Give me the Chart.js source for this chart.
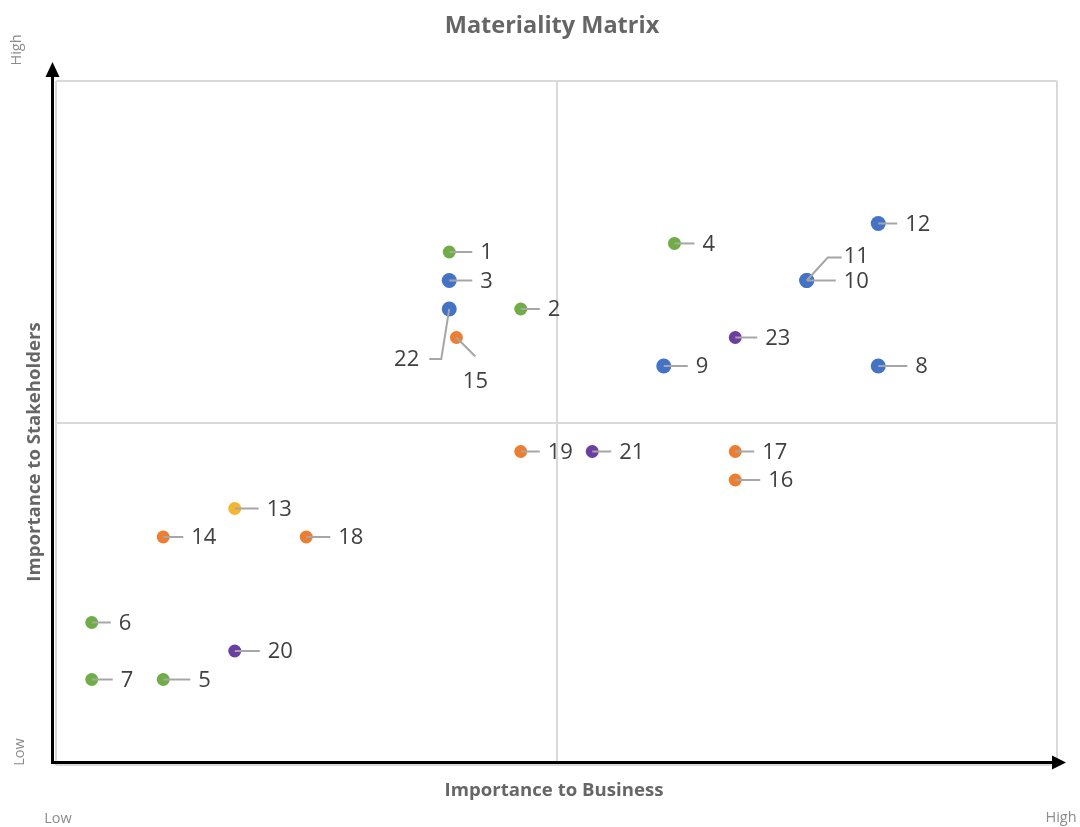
<!DOCTYPE html>
<html>
<head>
<meta charset="utf-8">
<title>Materiality Matrix</title>
<script src="https://cdn.jsdelivr.net/npm/chart.js@4/dist/chart.umd.min.js"></script>
<style>
  html, body { margin: 0; padding: 0; background: #ffffff; }
  #wrap { width: 1080px; height: 827px; }
</style>
</head>
<body>
<div id="wrap"><canvas id="matrix" width="1080" height="827"></canvas></div>
<script>
// Topic numbers and their scores
const topicIds = [1, 2, 3, 4, 5, 6, 7, 8, 9, 10, 11, 12, 13, 14, 15, 16, 17, 18, 19, 20, 21, 22, 23];
const businessScores = [5.5, 6.5, 5.5, 8.65, 1.5, 0.5, 0.5, 11.5, 8.5, 10.5, 10.5, 11.5, 2.5, 1.5, 5.6, 9.5, 9.5, 3.5, 6.5, 2.5, 7.5, 5.5, 9.5];
const stakeholderScores = [18, 16, 17, 18.3, 3, 5, 3, 14, 14, 17, 17, 19, 9, 8, 15, 10, 11, 8, 11, 4, 11, 16, 15];
// Topic category for each topic
const topicCategory = ['env', 'env', 'gov', 'env', 'env', 'env', 'env', 'gov', 'gov', 'gov', 'gov', 'gov', 'eco', 'soc', 'soc', 'soc', 'soc', 'soc', 'soc', 'ppl', 'ppl', 'gov', 'ppl'];
const categoryNames = ['env', 'gov', 'soc', 'eco', 'ppl'];

// Axis ranges; the middle grid line splits the quadrants
const xRange = [0, 14];
const yRange = [0, 24];

// Look of each category
const categoryStyle = {
  env: { color: '#70AD47', radius: 6.5 },
  gov: { color: '#4472C4', radius: 7.5 },
  soc: { color: '#ED7D31', radius: 6.5 },
  eco: { color: '#F5B531', radius: 6.5 },
  ppl: { color: '#6B3FA0', radius: 6.5 }
};

// Leader length (px) for the plain right-hand labels
const leaderLen = [23, 19, 23, 20, 27, 19, 21, 29, 24, 29, 0, 19, 24, 20, 0, 25, 19, 24, 19, 25, 19, 0, 22];
// Labels that need a bent leader: path points relative to the marker, text anchor and alignment
const customLeaders = {
  11: { path: [[0, 0], [21, -23], [35, -23]], text: [37, -24], align: 'left' },
  15: { path: [[0, 0], [19, 19]], text: [19, 44], align: 'center' },
  22: { path: [[0, 0], [-8, 50], [-20, 50]], text: [-30, 51], align: 'right' }
};

const datasets = categoryNames.map(cat => {
  const pts = [];
  topicIds.forEach((id, i) => {
    if (topicCategory[i] === cat) pts.push({ x: businessScores[i], y: stakeholderScores[i], id: id, idx: i });
  });
  const st = categoryStyle[cat];
  return {
    label: cat,
    data: pts,
    backgroundColor: st.color,
    borderColor: st.color,
    borderWidth: 0,
    pointRadius: st.radius,
    pointHoverRadius: st.radius
  };
});

const FONT = '"Open Sans", "Segoe UI", "DejaVu Sans", sans-serif';

const labelPlugin = {
  id: 'topicLabels',
  afterDatasetsDraw(chart) {
    const ctx = chart.ctx;
    ctx.save();
    chart.data.datasets.forEach((ds, di) => {
      const meta = chart.getDatasetMeta(di);
      meta.data.forEach((el, k) => {
        const p = ds.data[k];
        const cx = el.x, cy = el.y;
        const custom = customLeaders[p.id];
        ctx.strokeStyle = '#A6A6A6';
        ctx.lineWidth = 2;
        ctx.fillStyle = '#404040';
        ctx.font = '22px ' + FONT;
        ctx.textBaseline = 'middle';
        ctx.beginPath();
        if (custom) {
          custom.path.forEach((pt, j) => {
            if (j === 0) ctx.moveTo(cx + pt[0], cy + pt[1]);
            else ctx.lineTo(cx + pt[0], cy + pt[1]);
          });
          ctx.stroke();
          ctx.textAlign = custom.align;
          ctx.fillText(String(p.id), cx + custom.text[0], cy + custom.text[1]);
        } else {
          const len = leaderLen[p.idx];
          ctx.moveTo(cx, cy);
          ctx.lineTo(cx + len, cy);
          ctx.stroke();
          ctx.textAlign = 'left';
          ctx.fillText(String(p.id), cx + len + 8, cy + 1);
        }
      });
    });
    ctx.restore();
  }
};

const framePlugin = {
  id: 'matrixFrame',
  afterDraw(chart) {
    const ctx = chart.ctx;
    const a = chart.chartArea;
    ctx.save();
    // Axes with arrow heads
    const ox = a.left - 3.5, oy = a.bottom - 2.5;
    ctx.strokeStyle = '#000000';
    ctx.fillStyle = '#000000';
    ctx.lineWidth = 3;
    ctx.beginPath();
    ctx.moveTo(ox, oy + 1.5);
    ctx.lineTo(ox, a.top - 6);
    ctx.stroke();
    ctx.beginPath();
    ctx.moveTo(ox - 1.5, oy);
    ctx.lineTo(a.right - 4, oy);
    ctx.stroke();
    ctx.beginPath();
    ctx.moveTo(ox, a.top - 19);
    ctx.lineTo(ox - 7, a.top - 4);
    ctx.lineTo(ox + 7, a.top - 4);
    ctx.closePath();
    ctx.fill();
    ctx.beginPath();
    ctx.moveTo(a.right + 9, oy);
    ctx.lineTo(a.right - 5, oy - 7);
    ctx.lineTo(a.right - 5, oy + 7);
    ctx.closePath();
    ctx.fill();

    // Title
    ctx.fillStyle = '#666666';
    ctx.textAlign = 'center';
    ctx.textBaseline = 'middle';
    ctx.font = 'bold 23.5px ' + FONT;
    ctx.fillText('Materiality Matrix', 552, 26);

    // Axis titles
    ctx.font = 'bold 18.6px ' + FONT;
    ctx.fillText('Importance to Business', 554, 791);
    ctx.save();
    ctx.translate(35, 452);
    ctx.rotate(-Math.PI / 2);
    ctx.fillText('Importance to Stakeholders', 0, 0);
    ctx.restore();

    // Low / High markers
    ctx.fillStyle = '#8C8C8C';
    ctx.font = '14.5px ' + FONT;
    ctx.fillText('Low', 58, 819);
    ctx.fillText('High', 1061, 818);
    ctx.save();
    ctx.translate(17, 50);
    ctx.rotate(-Math.PI / 2);
    ctx.fillText('High', 0, 0);
    ctx.restore();
    ctx.save();
    ctx.translate(20, 752);
    ctx.rotate(-Math.PI / 2);
    ctx.fillText('Low', 0, 0);
    ctx.restore();
    ctx.restore();
  }
};

new Chart(document.getElementById('matrix'), {
  type: 'scatter',
  data: { datasets: datasets },
  options: {
    responsive: false,
    animation: false,
    devicePixelRatio: 1,
    layout: { padding: { left: 56, right: 23, top: 81, bottom: 62 } },
    plugins: {
      legend: { display: false },
      title: { display: false },
      tooltip: { enabled: false }
    },
    scales: {
      x: {
        type: 'linear',
        min: xRange[0],
        max: xRange[1],
        ticks: { display: false, stepSize: (xRange[1] - xRange[0]) / 2 },
        grid: { color: '#D9D9D9', lineWidth: 2, drawTicks: false },
        border: { display: false }
      },
      y: {
        type: 'linear',
        min: yRange[0],
        max: yRange[1],
        ticks: { display: false, stepSize: (yRange[1] - yRange[0]) / 2 },
        grid: { color: '#D9D9D9', lineWidth: 2, drawTicks: false },
        border: { display: false }
      }
    }
  },
  plugins: [labelPlugin, framePlugin]
});
</script>
</body>
</html>
